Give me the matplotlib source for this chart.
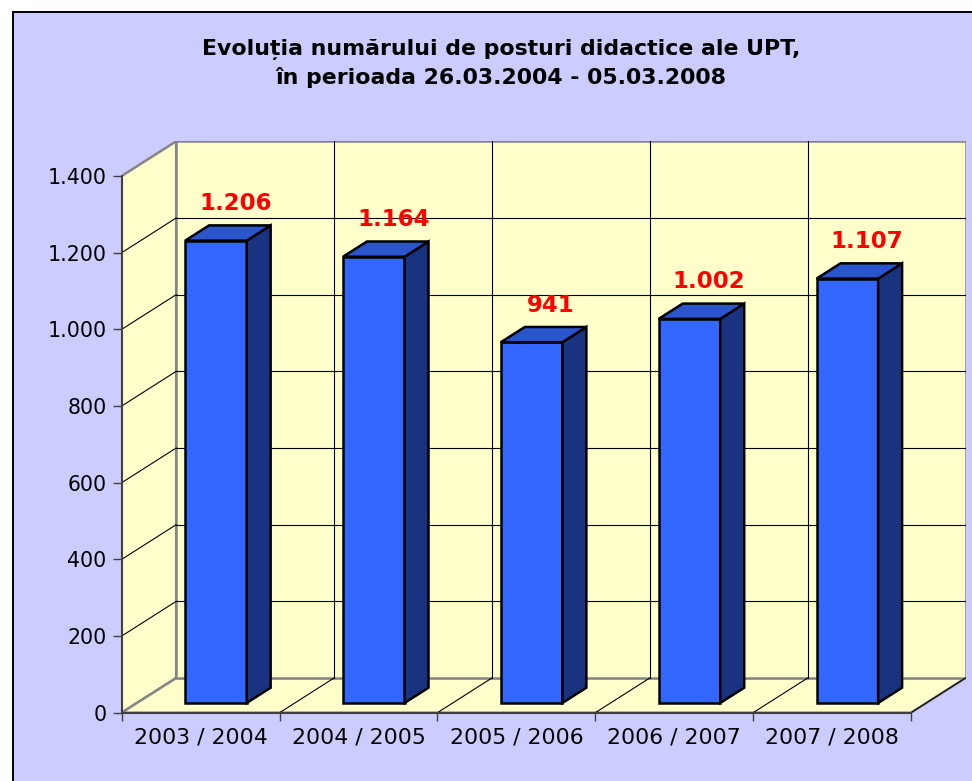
import matplotlib
matplotlib.use("Agg")
import matplotlib.pyplot as plt
from matplotlib.patches import Polygon, Rectangle
from matplotlib.ticker import FuncFormatter, FixedLocator

# data
years = ["2003 / 2004", "2004 / 2005", "2005 / 2006", "2006 / 2007", "2007 / 2008"]
posts = [1206, 1164, 941, 1002, 1107]
y_ticks = [0, 200, 400, 600, 800, 1000, 1200, 1400]

title_1 = "Evoluția numărului de posturi didactice ale UPT,"
title_2 = "în perioada 26.03.2004 - 05.03.2008"

# look
W, H = 972, 781
BG = "#CCCCFF"
WALL = "#FFFFCC"
WALL_EDGE = "#858585"
AXIS = "#404040"
FRONT, SIDE, TOP = "#3366FF", "#1A3380", "#2A55CC"
FONT = "DejaVu Sans"

# pseudo-3D geometry (pixel measures of the reference)
PX_CAT = 157.86          # px per category
PX_VAL = 536.7 / 1400    # px per value unit
DEPTH_X = 54.5 / PX_CAT  # back wall shift, in category units
DEPTH_Y = 34.7 / PX_VAL  # back wall shift, in value units
D0, D1 = 0.28, 0.72      # bar front/back depth
BAR_W = 0.39

ymax = y_ticks[-1]
ncat = len(years)


def proj(x, y, d):
    return (x + d * DEPTH_X, y + d * DEPTH_Y)


def poly(ax, pts, **kw):
    ax.add_patch(Polygon(pts, closed=True, **kw))


fig = plt.figure(figsize=(W / 100, H / 100), dpi=100, facecolor="white")
fig.patches.append(Rectangle((12.7 / W, -0.1), 1.2, 1 - 12 / H + 0.1,
                             transform=fig.transFigure, facecolor=BG,
                             edgecolor="black", linewidth=1.4, zorder=-5))

ax_left, ax_bottom = 121.7, 712.7
ax_w = ncat * PX_CAT + 54.5
ax_h = ymax * PX_VAL + 34.7
ax = fig.add_axes([ax_left / W, (H - ax_bottom) / H, ax_w / W, ax_h / H])
ax.set_facecolor("none")
ax.set_xlim(0, ncat + DEPTH_X)
ax.set_ylim(0, ymax + DEPTH_Y)

# walls
wall_kw = dict(facecolor=WALL, edgecolor=WALL_EDGE, linewidth=1.8, zorder=1)
poly(ax, [proj(0, 0, 0), proj(0, ymax, 0), proj(0, ymax, 1), proj(0, 0, 1)], **wall_kw)
poly(ax, [proj(0, 0, 0), proj(ncat, 0, 0), proj(ncat, 0, 1), proj(0, 0, 1)], **wall_kw)
poly(ax, [proj(0, 0, 1), proj(ncat, 0, 1), proj(ncat, ymax, 1), proj(0, ymax, 1)], **wall_kw)

# gridlines
grid_kw = dict(color="black", linewidth=0.8, zorder=2)
for v in y_ticks[1:-1]:
    ax.plot(*zip(proj(0, v, 0), proj(0, v, 1)), **grid_kw)
    ax.plot(*zip(proj(0, v, 1), proj(ncat, v, 1)), **grid_kw)
for i in range(1, ncat):
    ax.plot(*zip(proj(i, 0, 1), proj(i, ymax, 1)), **grid_kw)
for i in range(1, ncat + 1):
    ax.plot(*zip(proj(i, 0, 0), proj(i, 0, 1)), **grid_kw)

# bars
bar_kw = dict(edgecolor="black", linewidth=1.8, joinstyle="miter", zorder=3)
for i, v in enumerate(posts):
    x0 = i + (1 - BAR_W) / 2
    x1 = x0 + BAR_W
    poly(ax, [proj(x0, 0, D0), proj(x1, 0, D0), proj(x1, v, D0), proj(x0, v, D0)],
         facecolor=FRONT, **bar_kw)
    poly(ax, [proj(x1, 0, D0), proj(x1, 0, D1), proj(x1, v, D1), proj(x1, v, D0)],
         facecolor=SIDE, **bar_kw)
    poly(ax, [proj(x0, v, D0), proj(x1, v, D0), proj(x1, v, D1), proj(x0, v, D1)],
         facecolor=TOP, **bar_kw)
    label = f"{v:,}".replace(",", ".")
    ax.annotate(label, xy=proj(i + 0.5, v, D0), xytext=(14, 22),
                textcoords="offset points", ha="center", va="baseline",
                color="red", fontsize=16.5, fontweight="bold", family=FONT, zorder=4)

# axes
for s in ("top", "right"):
    ax.spines[s].set_visible(False)
for s in ("left", "bottom"):
    ax.spines[s].set_color(AXIS)
    ax.spines[s].set_linewidth(1.5)
    ax.spines[s].set_zorder(2.5)
ax.spines["left"].set_bounds(0, ymax)
ax.spines["bottom"].set_bounds(0, ncat)

ax.yaxis.set_major_locator(FixedLocator(y_ticks))
ax.yaxis.set_major_formatter(FuncFormatter(lambda v, p: f"{int(v):,}".replace(",", ".")))
ax.tick_params(axis="y", direction="out", length=6.5, width=1, color=AXIS, pad=4.3,
               labelsize=14.8, labelcolor="black")

ax.xaxis.set_major_locator(FixedLocator(range(ncat + 1)))
ax.xaxis.set_minor_locator(FixedLocator([i + 0.5 for i in range(ncat)]))
ax.xaxis.set_major_formatter(FuncFormatter(lambda v, p: ""))
ax.xaxis.set_minor_formatter(FuncFormatter(lambda v, p: years[int(v)]))
ax.tick_params(axis="x", which="major", direction="out", length=5.8, width=1, color=AXIS)
ax.tick_params(axis="x", which="minor", length=0, pad=11, labelsize=15.8)
for lab in ax.get_xticklabels(minor=True) + ax.get_yticklabels():
    lab.set_family(FONT)

# title, two lines placed separately
fig.text(501 / W, 1 - 55 / H, title_1, ha="center", va="baseline",
         fontsize=15.8, fontweight="bold", family=FONT)
fig.text(501 / W, 1 - 84.3 / H, title_2, ha="center", va="baseline",
         fontsize=15.8, fontweight="bold", family=FONT)

fig.savefig("out.png", dpi=100, facecolor=fig.get_facecolor())
